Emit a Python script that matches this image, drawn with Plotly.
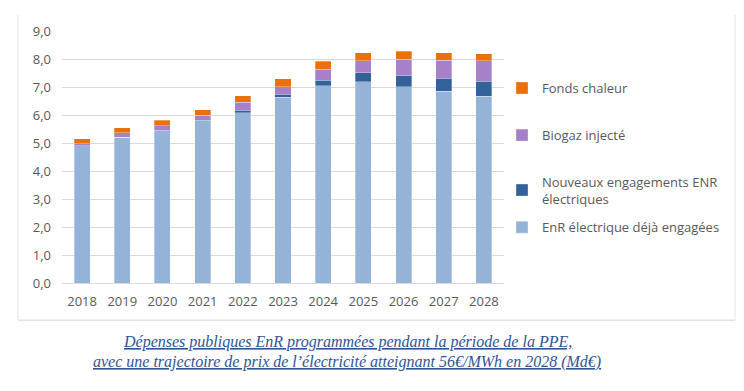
import plotly.graph_objects as go

years = ["2018", "2019", "2020", "2021", "2022", "2023", "2024", "2025", "2026", "2027", "2028"]
enr_deja = [4.90, 5.20, 5.44, 5.79, 6.08, 6.63, 7.04, 7.19, 7.01, 6.84, 6.67]
nouveaux = [0.01, 0.01, 0.02, 0.03, 0.09, 0.11, 0.20, 0.32, 0.40, 0.48, 0.53]
biogaz = [0.06, 0.15, 0.16, 0.18, 0.29, 0.27, 0.40, 0.42, 0.59, 0.63, 0.73]
fonds = [0.18, 0.19, 0.19, 0.19, 0.23, 0.28, 0.28, 0.29, 0.28, 0.28, 0.26]

series = [
    ("EnR électrique déjà engagées", enr_deja, "#95B3D7", "legend4"),
    ("Nouveaux engagements ENR<br>électriques", nouveaux, "#33629A", "legend3"),
    ("Biogaz injecté", biogaz, "#A680C8", "legend2"),
    ("Fonds chaleur", fonds, "#EA700C", "legend"),
]

OFF = 8  # page body margin
W, H = 744 - OFF, 391 - OFF
L, R = 62 - OFF, 504 - OFF
T, B = 31 - OFF, 282.7 - OFF


def px(x):  # page x -> paper
    return (x - OFF - L) / (R - L)


def py(y):  # page y -> paper
    return (B - (y - OFF)) / (B - T)


fig = go.Figure()
for name, vals, color, lg in series:
    fig.add_trace(go.Bar(
        x=years, y=vals, name=name, legend=lg, showlegend=True,
        marker=dict(color=color, line=dict(color="rgba(255,255,255,0.6)", width=0.5)),
        width=0.4,
    ))

font_grey = "#595959"
leg_font = dict(family="Open Sans", size=13, color=font_grey)
leg_pos = {"legend": 88, "legend2": 135, "legend3": 190, "legend4": 227}
legends = {}
for k, yc in leg_pos.items():
    legends[k] = dict(x=px(502), y=py(yc), xanchor="left", yanchor="middle",
                      font=leg_font, bgcolor="rgba(0,0,0,0)", itemwidth=30,
                      borderwidth=0, visible=True)

fig.update_layout(
    width=W, height=H,
    margin=dict(l=L, r=W - R, t=T, b=H - B, pad=0, autoexpand=False),
    barmode="stack",
    showlegend=True,
    plot_bgcolor="white", paper_bgcolor="white",
    separators=",.",
    font=dict(family="Open Sans", size=13, color=font_grey),
    xaxis=dict(showgrid=False, showline=True, linecolor="#D9D9D9", linewidth=1,
               ticks="", tickfont=dict(size=13, color=font_grey), ticklabelstandoff=6),
    yaxis=dict(range=[0, 9], dtick=1, tickformat=".1f", showgrid=True,
               gridcolor="#D9D9D9", gridwidth=1, zeroline=False, showline=False,
               ticks="", tickfont=dict(size=13, color=font_grey), ticklabelstandoff=10),
    **legends,
)

# frame around chart area
frame_col = "#E3E3E3"
fig.add_shape(type="line", xref="paper", yref="paper", x0=px(18), x1=px(18), y0=py(15), y1=py(320),
              line=dict(color=frame_col, width=1))
fig.add_shape(type="line", xref="paper", yref="paper", x0=px(735), x1=px(735), y0=py(15), y1=py(320),
              line=dict(color=frame_col, width=1))
fig.add_shape(type="line", xref="paper", yref="paper", x0=px(18), x1=px(735), y0=py(320), y1=py(320),
              line=dict(color=frame_col, width=1.5))

cap_font = dict(family="Liberation Serif", size=16, color="#2F5496", style="italic", lineposition="under")
fig.add_annotation(text="Dépenses publiques EnR programmées pendant la période de la PPE,",
                   xref="paper", yref="paper", x=px(347), y=py(342), showarrow=False,
                   xanchor="center", yanchor="middle", font=cap_font)
fig.add_annotation(text="avec une trajectoire de prix de l’électricité atteignant 56€/MWh en 2028 (Md€)",
                   xref="paper", yref="paper", x=px(347), y=py(362), showarrow=False,
                   xanchor="center", yanchor="middle", font=cap_font)

fig.write_html("out.html")
